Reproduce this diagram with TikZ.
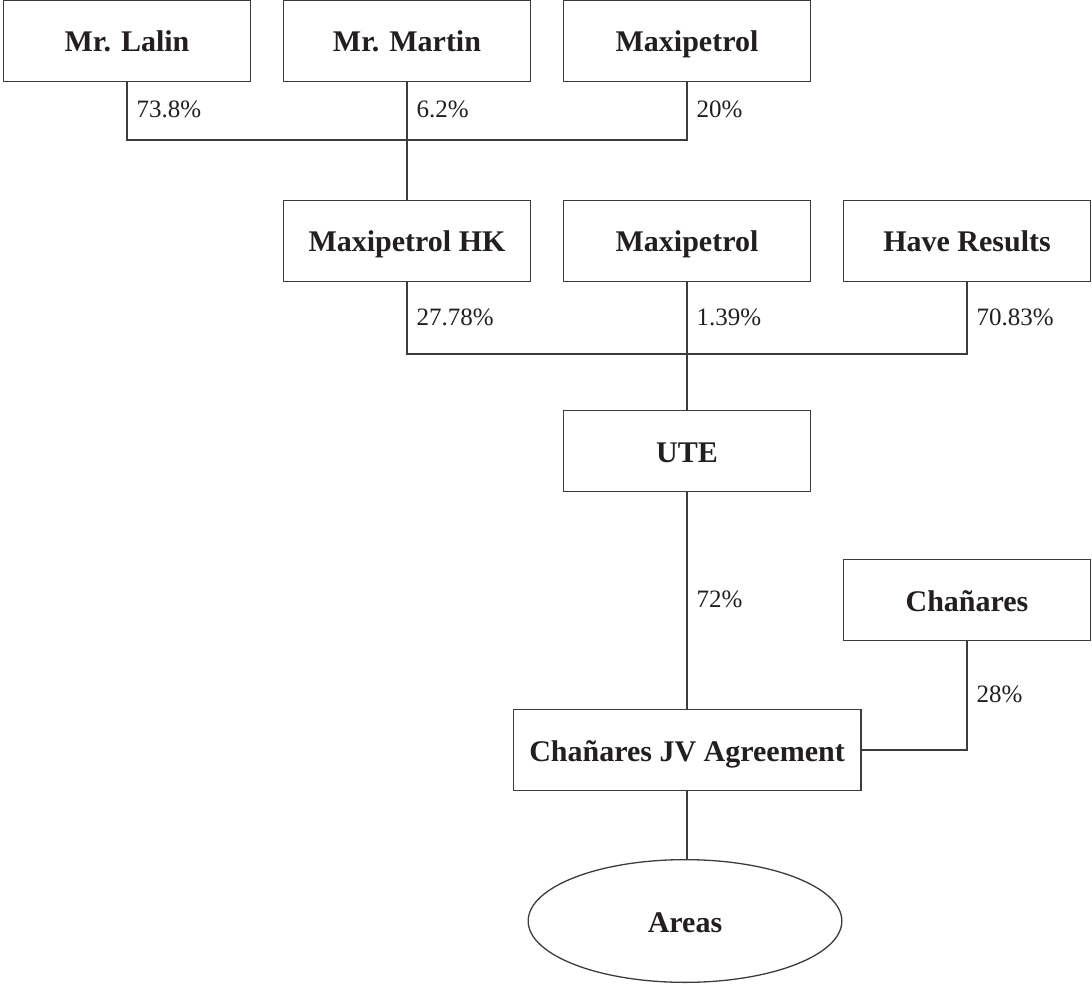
\documentclass[tikz,border=0pt]{standalone}
\usepackage{fontspec}
\setmainfont{Liberation Serif}
\usetikzlibrary{positioning}
\usetikzlibrary{shapes.geometric}
\definecolor{ink}{HTML}{231F20}
\definecolor{rule}{HTML}{3C3C3C}
\tikzset{
	every node/.style = {text=ink},
	box/.style = {draw=rule, line width=1.3pt, rectangle, inner sep=0pt,
		minimum width=246.7pt, minimum height=80.7pt,
		text height=24pt, text depth=2pt,
		font=\fontsize{30}{34}\selectfont\bfseries},
	oval/.style = {draw=rule, line width=1.3pt, ellipse, inner sep=0pt,
		minimum width=313.7pt, minimum height=122.7pt,
		text height=24pt, text depth=2pt,
		font=\fontsize{30}{34}\selectfont\bfseries},
	pct/.style = {anchor=west, inner sep=0pt, xshift=9pt,
		text height=16pt, text depth=2pt,
		font=\fontsize{25}{28}\selectfont},
	link/.style = {draw=rule, line width=1.3pt}
}

\begin{document}
\begin{tikzpicture}[x=1pt, y=-1pt]
		\useasboundingbox (0,0) rectangle (1092,984);
		% depth 1
		\foreach \name/\x/\txt in {lalin/127/Mr. Lalin, martin/407/Mr. Martin, maxitop/687/Maxipetrol}
			\node[box] (\name) at (\x,41) {\txt};
		% depth 2
		\foreach \name/\x/\txt in {hk/407/Maxipetrol HK, maxiute/687/Maxipetrol, have/967/Have Results}
			\node[box] (\name) at (\x,241) {\txt};
		% depth 3
		\node[box] (ute) at (687,451) {UTE};
		\node[box] (chanares) at (967,600) {Chañares};
		\node[box, minimum width=347.7pt] (jv) at (687,750) {Chañares JV Agreement};
		\node[oval] (areas) at (685,921) {Areas};

		\coordinate (join1) at (407,140);
		\coordinate (join2) at (687,354);

		\draw[link] (lalin.south) |- node[pos=0.25, pct] {73.8\%} (join1);
		\draw[link] (maxitop.south) |- node[pos=0.25, pct] {20\%} (join1);
		\draw[link] (martin.south) -- node[midway, pct] {6.2\%} (join1) -- (hk.north);

		\draw[link] (hk.south) |- node[pos=0.25, pct] {27.78\%} (join2);
		\draw[link] (have.south) |- node[pos=0.25, pct] {70.83\%} (join2);
		\draw[link] (maxiute.south) -- node[midway, pct] {1.39\%} (join2) -- (ute.north);

		\draw[link] (ute.south) -- node[midway, pct] {72\%} (jv.north);
		\draw[link] (chanares.south) |- node[pos=0.25, pct] {28\%} (jv.east);
		\draw[link] (jv.south) -- (jv.south |- areas.north);
	\end{tikzpicture}
\end{document}
